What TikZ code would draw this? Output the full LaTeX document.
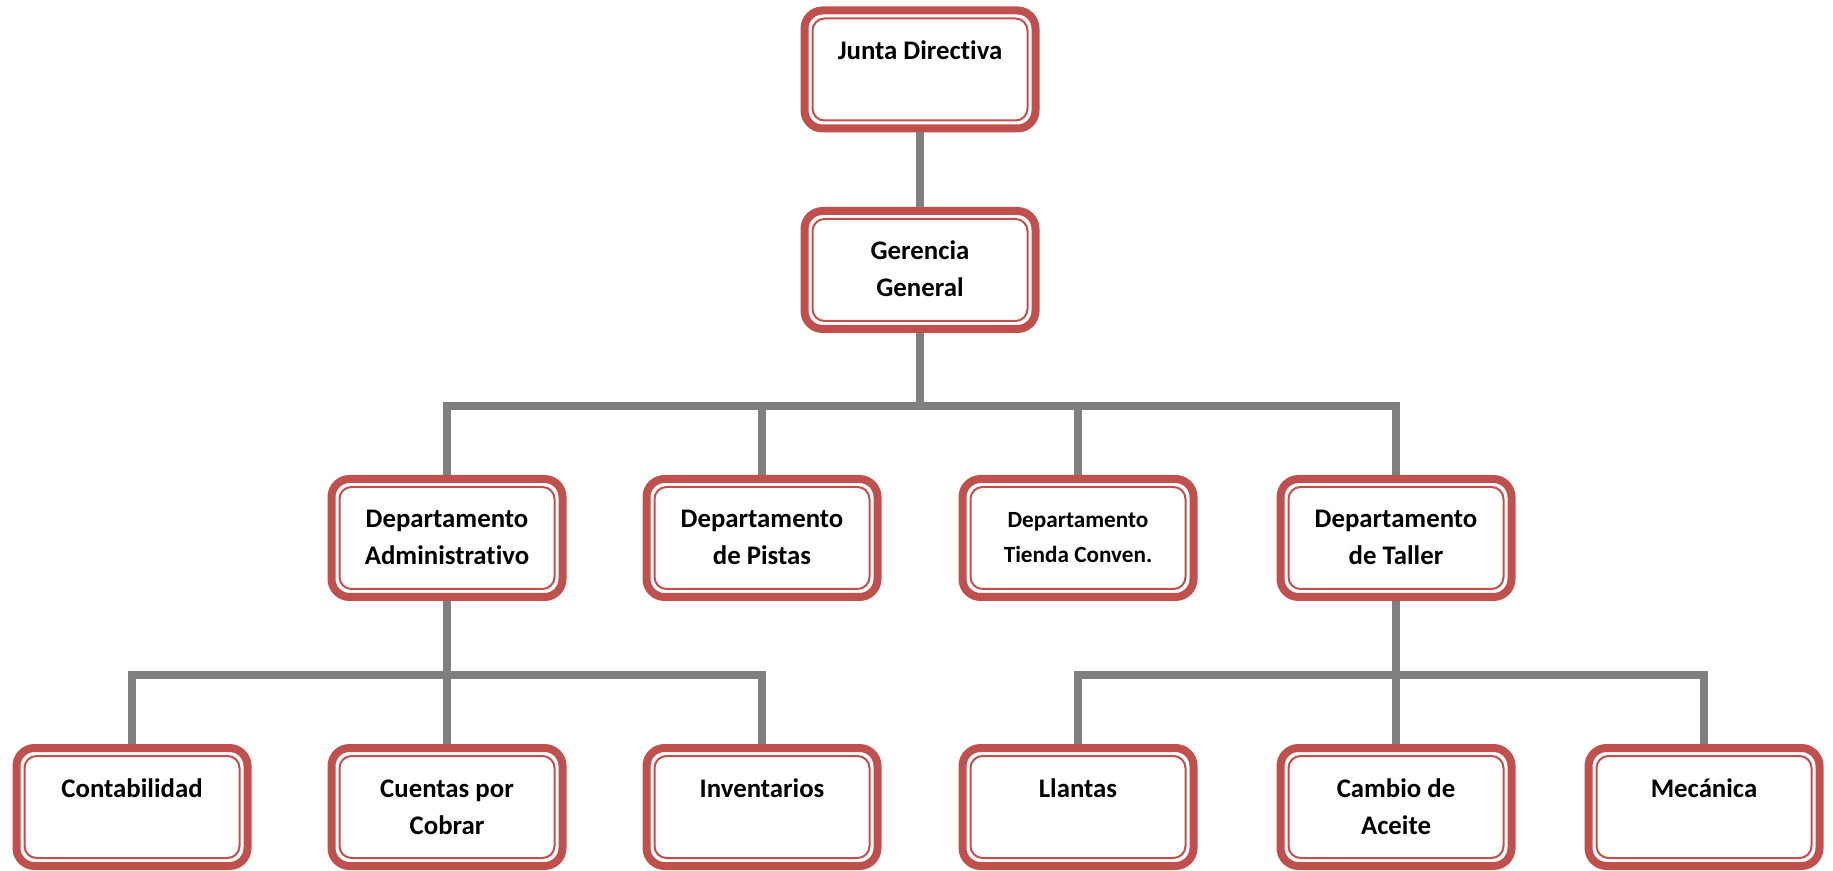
\documentclass[tikz,border=0pt]{standalone}
\usepackage{fontspec}
\setmainfont{Carlito}[Ligatures={NoCommon,NoRare}]
\usetikzlibrary{calc,backgrounds}
\definecolor{boxred}{HTML}{C0504D}
\definecolor{linegray}{HTML}{7F7F7F}
\newcommand{\boxtext}[1]{\parbox[c][59pt][t]{115.5pt}{\centering\bfseries\fontsize{13.4}{18.5}\selectfont\rule{0pt}{24.5pt}#1}}

\tikzset{
	orgbox/.style={draw=boxred, line width=4pt, rounded corners=9pt, fill=white, inner sep=0pt, outer sep=0pt,
		path picture={\draw[boxred, line width=1pt, rounded corners=6pt]
			($(path picture bounding box.south west)+(4pt,4pt)$) rectangle ($(path picture bounding box.north east)-(4pt,4pt)$);}},
	conn/.style={draw=linegray, line width=3.7pt}
}

\begin{document}
\begin{tikzpicture}[x=0.5pt,y=-0.5pt]
		\useasboundingbox (0,0) rectangle (1833,871);
		%%%%% BOXES %%%%%
		\node[orgbox] (junta) at (920,69.5) {\boxtext{Junta Directiva}};
		\node[orgbox] (gerencia) at (920,270) {\boxtext{Gerencia\\ General}};
		
		\node[orgbox] (admin) at (447,538) {\boxtext{Departamento\\ Administrativo}};
		\node[orgbox] (pistas) at (762,538) {\boxtext{Departamento\\ de Pistas}};
		\node[orgbox] (tienda) at (1078,538) {\boxtext{\fontsize{11.6}{17.5}\selectfont Departamento\\ Tienda Conven.}};
		\node[orgbox] (taller) at (1396,538) {\boxtext{Departamento\\ de Taller}};
		
		\node[orgbox] (contab) at (132,807) {\boxtext{Contabilidad}};
		\node[orgbox] (cuentas) at (447,807) {\boxtext{Cuentas por\\ Cobrar}};
		\node[orgbox] (invent) at (762,807) {\boxtext{Inventarios}};
		\node[orgbox] (llantas) at (1078,807) {\boxtext{Llantas}};
		\node[orgbox] (aceite) at (1396,807) {\boxtext{Cambio de\\ Aceite}};
		\node[orgbox] (mecanica) at (1704,807) {\boxtext{Mecánica}};
		
		\coordinate (bar1) at (0,406);
		\coordinate (bar2) at (0,675);
		
		%%%%% LINES %%%%%
		\begin{scope}[on background layer]
		\draw[conn] (junta.center) -- (gerencia.center);
		\draw[conn] (gerencia.south) -- (gerencia.south |- bar1) -| (admin.north);
		\draw[conn] (gerencia.south) -- (gerencia.south |- bar1) -| (pistas.north);
		\draw[conn] (gerencia.south) -- (gerencia.south |- bar1) -| (tienda.north);
		\draw[conn] (gerencia.south) -- (gerencia.south |- bar1) -| (taller.north);
		
		\draw[conn] (admin.south) -- (admin.south |- bar2) -| (contab.north);
		\draw[conn] (admin.south) -- (cuentas.north);
		\draw[conn] (admin.south) -- (admin.south |- bar2) -| (invent.north);
		
		\draw[conn] (taller.south) -- (taller.south |- bar2) -| (llantas.north);
		\draw[conn] (taller.south) -- (aceite.north);
		\draw[conn] (taller.south) -- (taller.south |- bar2) -| (mecanica.north);
		\end{scope}
	\end{tikzpicture}
\end{document}
